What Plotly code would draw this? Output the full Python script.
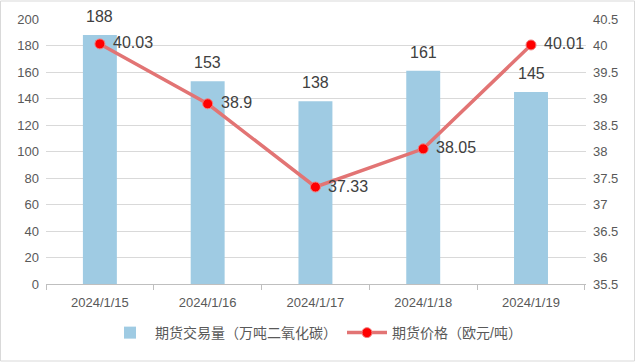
import plotly.graph_objects as go

dates = ["2024/1/15", "2024/1/16", "2024/1/17", "2024/1/18", "2024/1/19"]
volume = [188, 153, 138, 161, 145]
price = [40.03, 38.9, 37.33, 38.05, 40.01]

bar_name = "期货交易量（万吨二氧化碳）"
line_name = "期货价格（欧元/吨）"

font_fam = "Liberation Sans, Noto Sans CJK SC, sans-serif"

fig = go.Figure()
fig.add_trace(go.Bar(
    x=dates, y=volume, name=bar_name,
    marker=dict(color="#9FCBE3", line=dict(width=0)),
    yaxis="y",
))
fig.add_trace(go.Scatter(
    x=dates, y=price, name=line_name, mode="lines+markers",
    line=dict(color="#E27474", width=3.5),
    marker=dict(color="#FF0000", size=10, line=dict(color="#F08080", width=1)),
    yaxis="y2",
))

annotations = []
for d, v in zip(dates, volume):
    annotations.append(dict(x=d, y=v, xref="x", yref="y", text=str(v), showarrow=False,
                            yanchor="bottom", yshift=8,
                            font=dict(size=16, color="#404040", family=font_fam)))
for d, v in zip(dates, price):
    annotations.append(dict(x=d, y=v, xref="x", yref="y2", text=f"{v:g}", showarrow=False,
                            xanchor="left", xshift=11, yshift=1,
                            font=dict(size=16, color="#404040", family=font_fam)))

fig.update_layout(
    width=635, height=362,
    margin=dict(l=46, r=49, t=19, b=78, autoexpand=False),
    paper_bgcolor="white", plot_bgcolor="white",
    font=dict(family=font_fam, color="#595959", size=13),
    bargap=0.685,
    showlegend=True,
    legend=dict(orientation="h", x=0.5, xanchor="center", y=-0.185, yanchor="middle",
                font=dict(size=14, color="#595959"), itemwidth=40, tracegroupgap=0),
    xaxis=dict(type="category", showline=True, linecolor="#BFBFBF", linewidth=1,
               ticks="outside", tickson="boundaries", ticklen=5, tickcolor="#BFBFBF",
               ticklabelstandoff=6,
               tickfont=dict(size=13, color="#595959"), showgrid=False),
    yaxis=dict(range=[0, 200], dtick=20, showgrid=True, gridcolor="#D9D9D9",
               zeroline=False, tickfont=dict(size=13, color="#595959"), ticks="",
               showline=False, ticklabelstandoff=6),
    yaxis2=dict(range=[35.5, 40.5], dtick=0.5, overlaying="y", side="right",
                showgrid=False, zeroline=False, tickfont=dict(size=13, color="#595959"),
                showline=False, ticklabelstandoff=6),
    annotations=annotations,
    shapes=[dict(type="rect", xref="paper", yref="paper", x0=-45.5/540, x1=1+48.5/540,
                 y0=-77/265, y1=1+18/265, line=dict(color="#D9D9D9", width=1))],
)

fig.write_html("out.html", config={"displayModeBar": False},
               post_script="document.body.style.margin='0';document.body.style.overflow='hidden';")
